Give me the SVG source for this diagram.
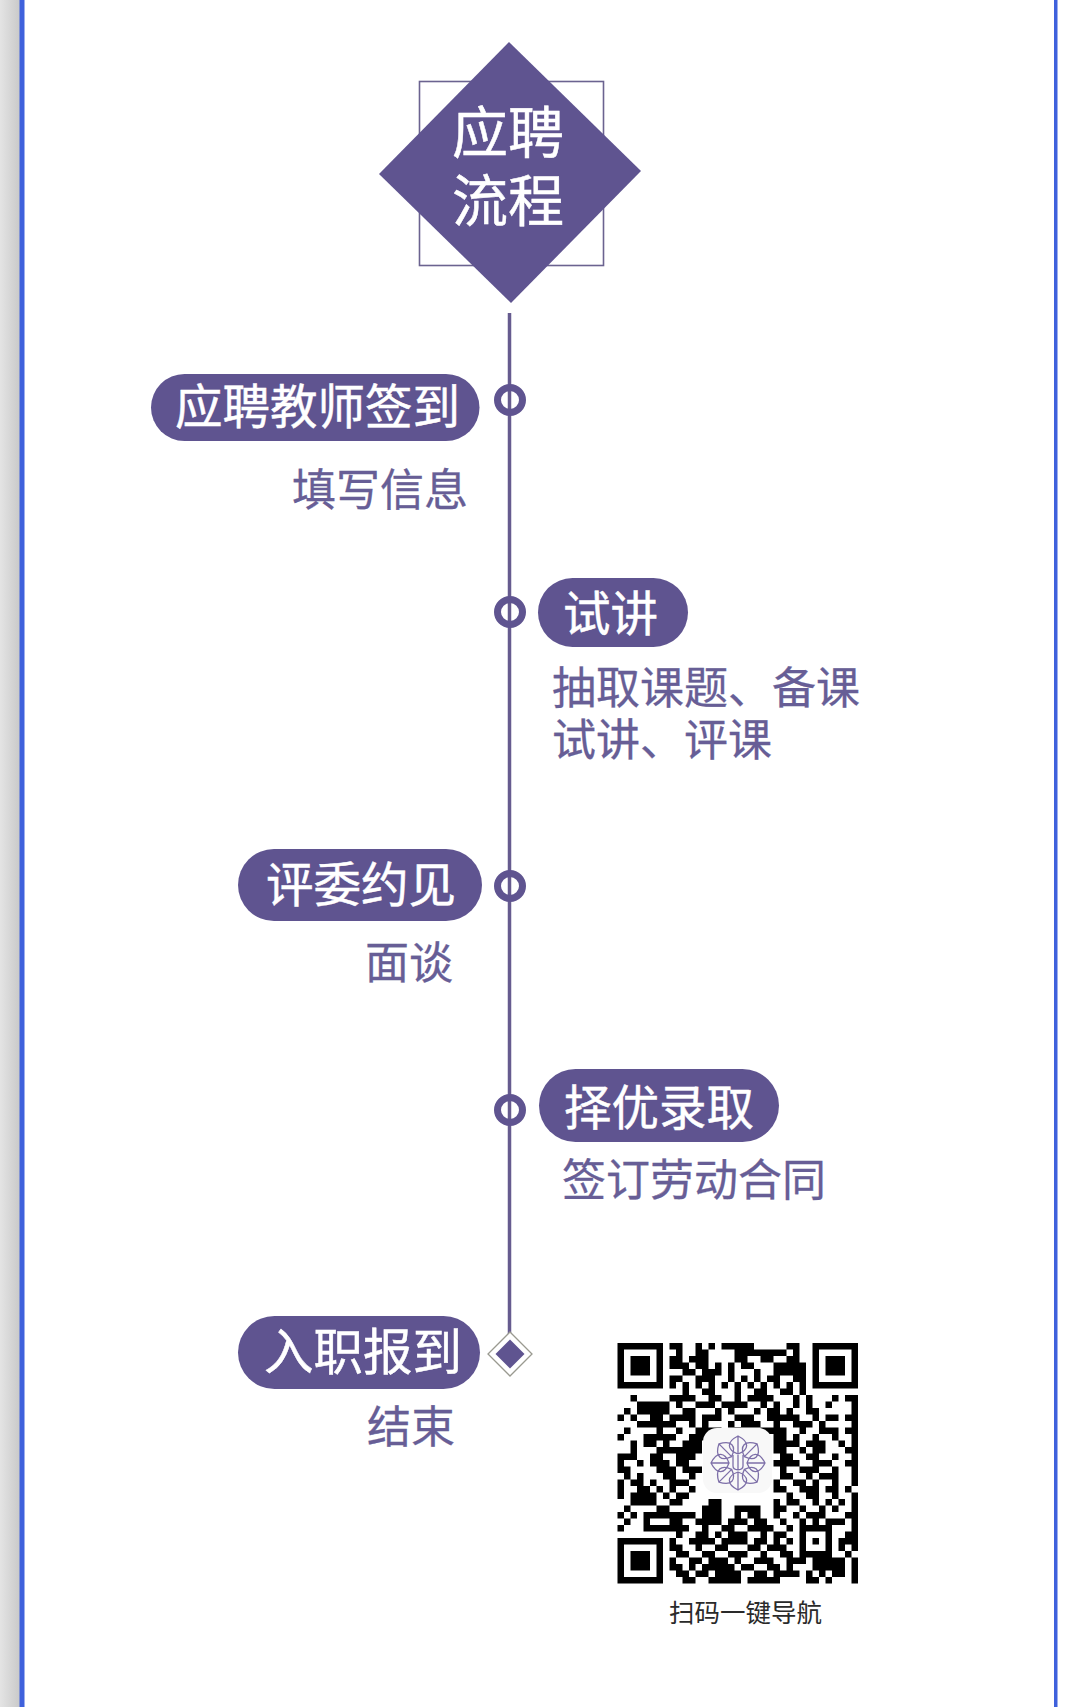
<svg xmlns="http://www.w3.org/2000/svg" xmlns:xlink="http://www.w3.org/1999/xlink" width="1080" height="1707" viewBox="0 0 1080 1707">
<style>
text{font-family:"Noto Sans CJK SC","Noto Sans",sans-serif}
.p{fill:#5f5490}
.t{fill:#fff;font-size:47.5px;stroke:#fff;stroke-width:.5}
.s{fill:#675e96;font-size:44px;stroke:#675e96;stroke-width:.3}
.r{fill:none;stroke:#5f5490;stroke-width:7}
</style>
<defs>
<linearGradient id="g" x1="0" x2="1" y1="0" y2="0"><stop offset="0" stop-color="#e4e4e4"/><stop offset="1" stop-color="#c9c9c9"/></linearGradient>
<filter id="b" x="-5%" y="-5%" width="110%" height="110%"><feGaussianBlur stdDeviation="0.07"/></filter>
<g id="pt"><path d="M0 -9C-11 -13 -12 -21 0 -27C12 -21 11 -13 0 -9ZM0 -9V-27" fill="none" stroke="#7d6fa8" stroke-width="1.3"/></g>
</defs>
<rect width="1080" height="1707" fill="#fff"/>
<rect width="20" height="1707" fill="url(#g)"/>
<rect x="19.5" width="5" height="1707" fill="#3f61dc"/>
<rect x="1054" width="3.5" height="1707" fill="#3f61dc"/>
<g id="connectors"><path d="M509.5 313V1335" fill="none" stroke="#665b8f" stroke-width="3.5"/></g>
<g id="title">
<rect x="419.5" y="81.5" width="184" height="184" fill="none" stroke="#6b6390" stroke-width="1.6"/>
<path class="p" d="M509 42L641 171L511 303L379 174Z"/>
<text x="452" y="153" fill="#fff" stroke="#fff" stroke-width=".5" font-size="56">应聘</text>
<text x="452" y="221" fill="#fff" stroke="#fff" stroke-width=".5" font-size="56">流程</text>
</g>
<g id="step1">
<circle class="r" cx="510" cy="400" r="12.5"/>
<rect class="p" x="151" y="374" width="328.500" height="67" rx="33.5"/>
<text class="t" x="175" y="424">应聘教师签到</text>
<text class="s" x="292" y="506">填写信息</text>
</g>
<g id="step2">
<circle class="r" cx="510" cy="612" r="12.5"/>
<rect class="p" x="538" y="578" width="150" height="69" rx="34.5"/>
<text class="t" x="563" y="631">试讲</text>
<text class="s" x="552" y="704">抽取课题、备课</text>
<text class="s" x="552" y="756">试讲、评课</text>
</g>
<g id="step3">
<circle class="r" cx="510" cy="886" r="12.5"/>
<rect class="p" x="238" y="849" width="244" height="72" rx="36"/>
<text class="t" x="266" y="902">评委约见</text>
<text class="s" x="365" y="979">面谈</text>
</g>
<g id="step4">
<circle class="r" cx="510" cy="1110" r="12.5"/>
<rect class="p" x="539" y="1069" width="240" height="73" rx="36.5"/>
<text class="t" x="564" y="1125">择优录取</text>
<text class="s" x="562" y="1196">签订劳动合同</text>
</g>
<g id="step5">
<path d="M510 1332L532 1354L510 1376L488 1354Z" fill="#fff" stroke="#9a9a90" stroke-width="1.3"/>
<path class="p" d="M510 1339.5L524.5 1354L510 1368.5L495.500 1354Z"/>
<rect class="p" x="238" y="1316" width="242" height="73" rx="36.500"/>
<text class="t" x="264" y="1370" style="font-size:49.500px">入职报到</text>
<text class="s" x="367" y="1443">结束</text>
</g>
<g id="qr">
<g filter="url(#b)" transform="translate(617.5 1343) scale(6.5)">
<path fill="none" stroke="#000" d="M0 .5h7M0 6.500h7M.5 0v7M6.500 0v7M30 .5h7M30 6.500h7M30.500 0v7M36.500 0v7M0 30.500h7M0 36.500h7M.5 30v7M6.500 30v7"/>
<path fill="#000" d="M2 2h3v3h-3zM32 2h3v3h-3zM2 32h3v3h-3z"/>
<path fill="none" stroke="#000" d="M8 .5h2M12 .5h1M14 .5h1M16 .5h5M26 .5h2
M9 1.500h1M12 1.500h2M18 1.500h8M27 1.500h1
M8 2.500h2M11 2.500h3M18 2.500h2M22 2.500h2M26 2.500h2
M8 3.500h3M12 3.500h2M15 3.500h1M17 3.500h1M19 3.500h2M24 3.500h5
M10 4.500h2M13 4.500h3M17 4.500h1M21 4.500h1M24 4.500h5
M8 5.500h2M12 5.500h3M17 5.500h1M19 5.500h1M21 5.500h1M23 5.500h2M27 5.500h2
M8 6.500h1M10 6.500h1M12 6.500h1M14 6.500h1M16 6.500h1M18 6.500h1M20 6.500h1M22 6.500h1M24 6.500h1M26 6.500h1M28 6.500h1
M10 7.500h1M13 7.500h2M18 7.500h1M21 7.500h2M25 7.500h2M28 7.500h1
M2 8.500h1M8 8.500h4M14 8.500h2M18 8.500h1M20 8.500h4M27 8.500h1M29 8.500h1M33 8.500h1M35 8.500h2
M3 9.500h5M9 9.500h1M12 9.500h3M16 9.500h4M22 9.500h1M24 9.500h1M27 9.500h1M29 9.500h1M32 9.500h1M36 9.500h1
M1 10.500h1M3 10.500h5M10 10.500h2M15 10.500h1M17 10.500h1M21 10.500h1M23 10.500h2M26 10.500h1M29 10.500h2M36 10.500h1
M0 11.500h1M2 11.500h1M5 11.500h2M8 11.500h4M13 11.500h3M18 11.500h3M23 11.500h5M30 11.500h1M32 11.500h2M35 11.500h2
M3 12.500h6M11 12.500h1M13 12.500h1M17 12.500h1M19 12.500h3M24 12.500h1M27 12.500h3M31 12.500h1M36 12.500h1
M1 13.500h1M6 13.500h1M9 13.500h1M12 13.500h4M18 13.500h1M22 13.500h4M28 13.500h1M31 13.500h3M35 13.500h2
M0 14.500h1M4 14.500h5M11 14.500h3M24 14.500h2M27 14.500h1M30 14.500h1M33 14.500h1M36 14.500h1
M2 15.500h1M4 15.500h2M7 15.500h1M10 15.500h3M24 15.500h4M29 15.500h3M34 15.500h1M36 15.500h1
M2 16.500h1M6 16.500h7M24 16.500h2M28 16.500h1M30 16.500h2M35 16.500h2
M0 17.500h3M5 17.500h2M9 17.500h3M25 17.500h2M29 17.500h2M33 17.500h1M36 17.500h1
M0 18.500h1M3 18.500h1M5 18.500h3M9 18.500h2M24 18.500h4M30 18.500h3M35 18.500h2
M0 19.500h2M6 19.500h3M10 19.500h3M25 19.500h1M28 19.500h3M33 19.500h1M36 19.500h1
M1 20.500h1M3 20.500h1M7 20.500h2M11 20.500h1M25 20.500h2M29 20.500h1M31 20.500h3M36 20.500h1
M0 21.500h1M2 21.500h2M5 21.500h1M8 21.500h3M24 21.500h1M27 21.500h2M30 21.500h1M33 21.500h1M36 21.500h1
M0 22.500h1M3 22.500h2M6 22.500h1M8 22.500h1M11 22.500h1M24 22.500h2M28 22.500h3M32 22.500h2M35 22.500h1
M0 23.500h1M2 23.500h4M7 23.500h1M9 23.500h2M26 23.500h1M29 23.500h2M33 23.500h1M36 23.500h1
M2 24.500h4M8 24.500h2M14 24.500h2M24 24.500h1M26 24.500h2M30 24.500h1M32 24.500h1M34 24.500h1M36 24.500h1
M1 25.500h1M6 25.500h2M13 25.500h3M18 25.500h4M24 25.500h2M28 25.500h1M31 25.500h1M33 25.500h1M36 25.500h1
M0 26.500h1M2 26.500h1M4 26.500h8M13 26.500h3M18 26.500h1M20 26.500h2M24 26.500h1M27 26.500h1M29 26.500h3M35 26.500h2
M1 27.500h1M4 27.500h1M8 27.500h2M12 27.500h4M17 27.500h3M21 27.500h2M25 27.500h1M28 27.500h1M30 27.500h1M32 27.500h3M36 27.500h1
M0 28.500h1M4 28.500h7M13 28.500h1M16 28.500h2M20 28.500h4M26 28.500h1M28 28.500h5M36 28.500h1
M9 29.500h1M12 29.500h2M15 29.500h1M17 29.500h3M22 29.500h1M24 29.500h2M28 29.500h1M32 29.500h1M35 29.500h2
M8 30.500h1M11 30.500h4M16 30.500h4M21 30.500h2M24 30.500h1M26 30.500h1M28 30.500h1M30 30.500h1M32 30.500h1M34 30.500h3
M8 31.500h2M12 31.500h1M15 31.500h2M20 31.500h2M23 31.500h3M28 31.500h1M32 31.500h1M34 31.500h1M36 31.500h1
M9 32.500h2M13 32.500h2M17 32.500h3M22 32.500h1M25 32.500h2M28 32.500h5M35 32.500h1
M8 33.500h1M11 33.500h2M14 33.500h3M18 33.500h1M21 33.500h3M26 33.500h3M30 33.500h5M36 33.500h1
M8 34.500h2M11 34.500h1M13 34.500h5M19 34.500h2M23 34.500h2M26 34.500h1M30 34.500h5M36 34.500h1
M9 35.500h2M12 35.500h2M15 35.500h4M21 35.500h2M24 35.500h4M29 35.500h1M31 35.500h1M33 35.500h2M36 35.500h1
M10 36.500h2M14 36.500h5M20 36.500h5M29 36.500h2M32 36.500h1M36 36.500h1"/>
</g>
<rect x="703" y="1428" width="69" height="65" rx="14" fill="#f8f8f8"/>
<g transform="translate(738 1463)">
<use xlink:href="#pt" href="#pt"/>
<use xlink:href="#pt" href="#pt" transform="rotate(45)"/>
<use xlink:href="#pt" href="#pt" transform="rotate(90)"/>
<use xlink:href="#pt" href="#pt" transform="rotate(135)"/>
<use xlink:href="#pt" href="#pt" transform="rotate(180)"/>
<use xlink:href="#pt" href="#pt" transform="rotate(225)"/>
<use xlink:href="#pt" href="#pt" transform="rotate(270)"/>
<use xlink:href="#pt" href="#pt" transform="rotate(315)"/>
<path d="M-5 -8V3C-5 8 5 8 5 3V-8M0 -8V6" fill="none" stroke="#7d6fa8" stroke-width="1.3"/>
</g>
<text x="669" y="1622" fill="#2a2a2a" font-size="25.500">扫码一键导航</text>
</g>
</svg>
